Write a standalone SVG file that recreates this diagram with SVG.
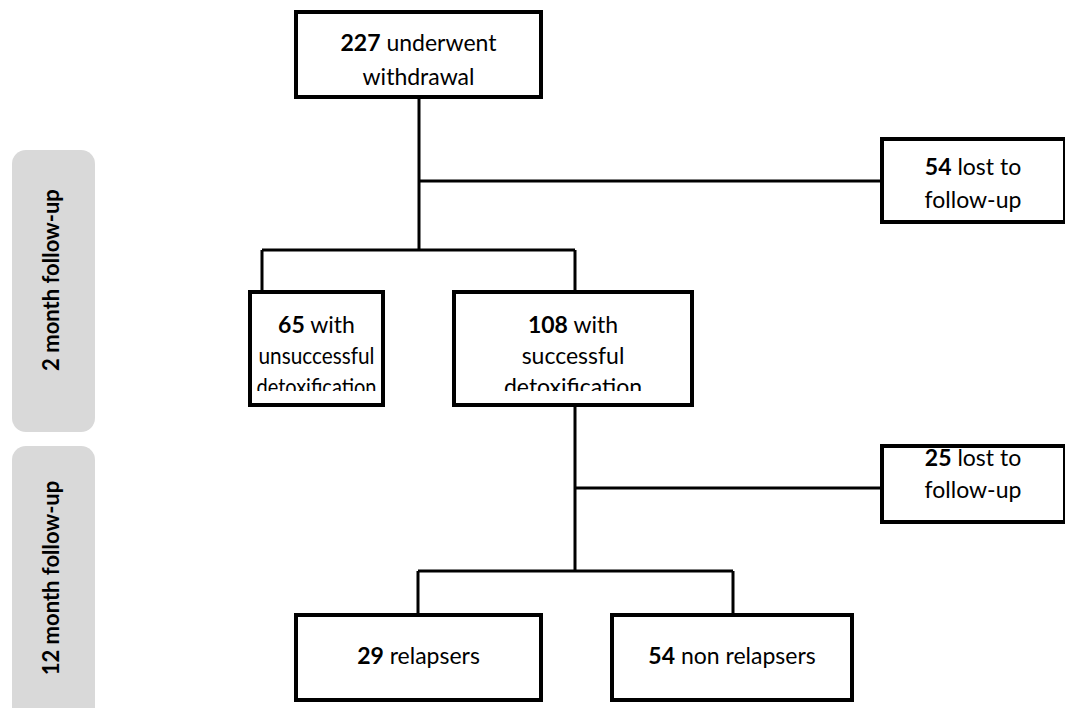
<svg xmlns="http://www.w3.org/2000/svg" width="1065" height="708" viewBox="0 0 1065 708">
<style>
.box{fill:#fff;stroke:#000;stroke-width:4}
.side{fill:#d9d9d9;stroke:none}
.t{font-family:Lato,"Open Sans","Liberation Sans",sans-serif;font-size:23px;fill:#000;text-anchor:middle}
.b{font-weight:bold}
.st{font-family:Lato,"Open Sans","Liberation Sans",sans-serif;font-size:22px;font-weight:bold;fill:#000;text-anchor:middle}
.c{stroke:#000;stroke-width:3;fill:none}
</style>
<defs>
<clipPath id="clipA"><rect x="250" y="292" width="133" height="99"/></clipPath>
<clipPath id="clipB"><rect x="454" y="292" width="238" height="99"/></clipPath>
</defs>
<rect width="1065" height="708" fill="#fff"/>
<g id="side1"><rect class="side" x="12" y="150" width="83" height="282" rx="14"/><text class="st" transform="translate(59,280) rotate(-90)">2 month follow-up</text></g>
<g id="side2"><rect class="side" x="12" y="446" width="83" height="280" rx="14"/><text class="st" transform="translate(59,578) rotate(-90)">12 month follow-up</text></g>
<g id="connectors">
<path class="c" d="M419 97V250M419 181H882M262 250H575M262 250V292M575 250V292M575 405V571M575 488H882M418 571H733M418 571V615M733 571V615"/>
</g>
<g id="n227"><rect class="box" x="296" y="12" width="245" height="85"/><text class="t" x="418.5" y="51"><tspan class="b">227</tspan> underwent</text><text class="t" x="418.5" y="85">withdrawal</text></g>
<g id="n54lost"><rect class="box" x="882" y="139" width="183" height="83"/><text class="t" x="973" y="175"><tspan class="b">54</tspan> lost to</text><text class="t" x="973" y="208">follow-up</text></g>
<g id="n65"><rect class="box" x="250" y="292" width="133" height="113"/><g clip-path="url(#clipA)"><text class="t" x="316.5" y="333"><tspan class="b">65</tspan> with</text><text class="t" x="316.5" y="364" textLength="116" lengthAdjust="spacingAndGlyphs">unsuccessful</text><text class="t" x="316.5" y="395" textLength="120" lengthAdjust="spacingAndGlyphs">detoxification</text></g></g>
<g id="n108"><rect class="box" x="454" y="292" width="238" height="113"/><g clip-path="url(#clipB)"><text class="t" x="573" y="333"><tspan class="b">108</tspan> with</text><text class="t" x="573" y="364">successful</text><text class="t" x="573" y="395">detoxification</text></g></g>
<g id="n25lost"><rect class="box" x="882" y="446" width="183" height="76"/><text class="t" x="973" y="466"><tspan class="b">25</tspan> lost to</text><text class="t" x="973" y="498">follow-up</text></g>
<g id="n29"><rect class="box" x="296" y="615" width="245" height="85"/><text class="t" x="418.5" y="664"><tspan class="b">29</tspan> relapsers</text></g>
<g id="n54"><rect class="box" x="612" y="615" width="240" height="85"/><text class="t" x="732" y="664"><tspan class="b">54</tspan> non relapsers</text></g>
</svg>
